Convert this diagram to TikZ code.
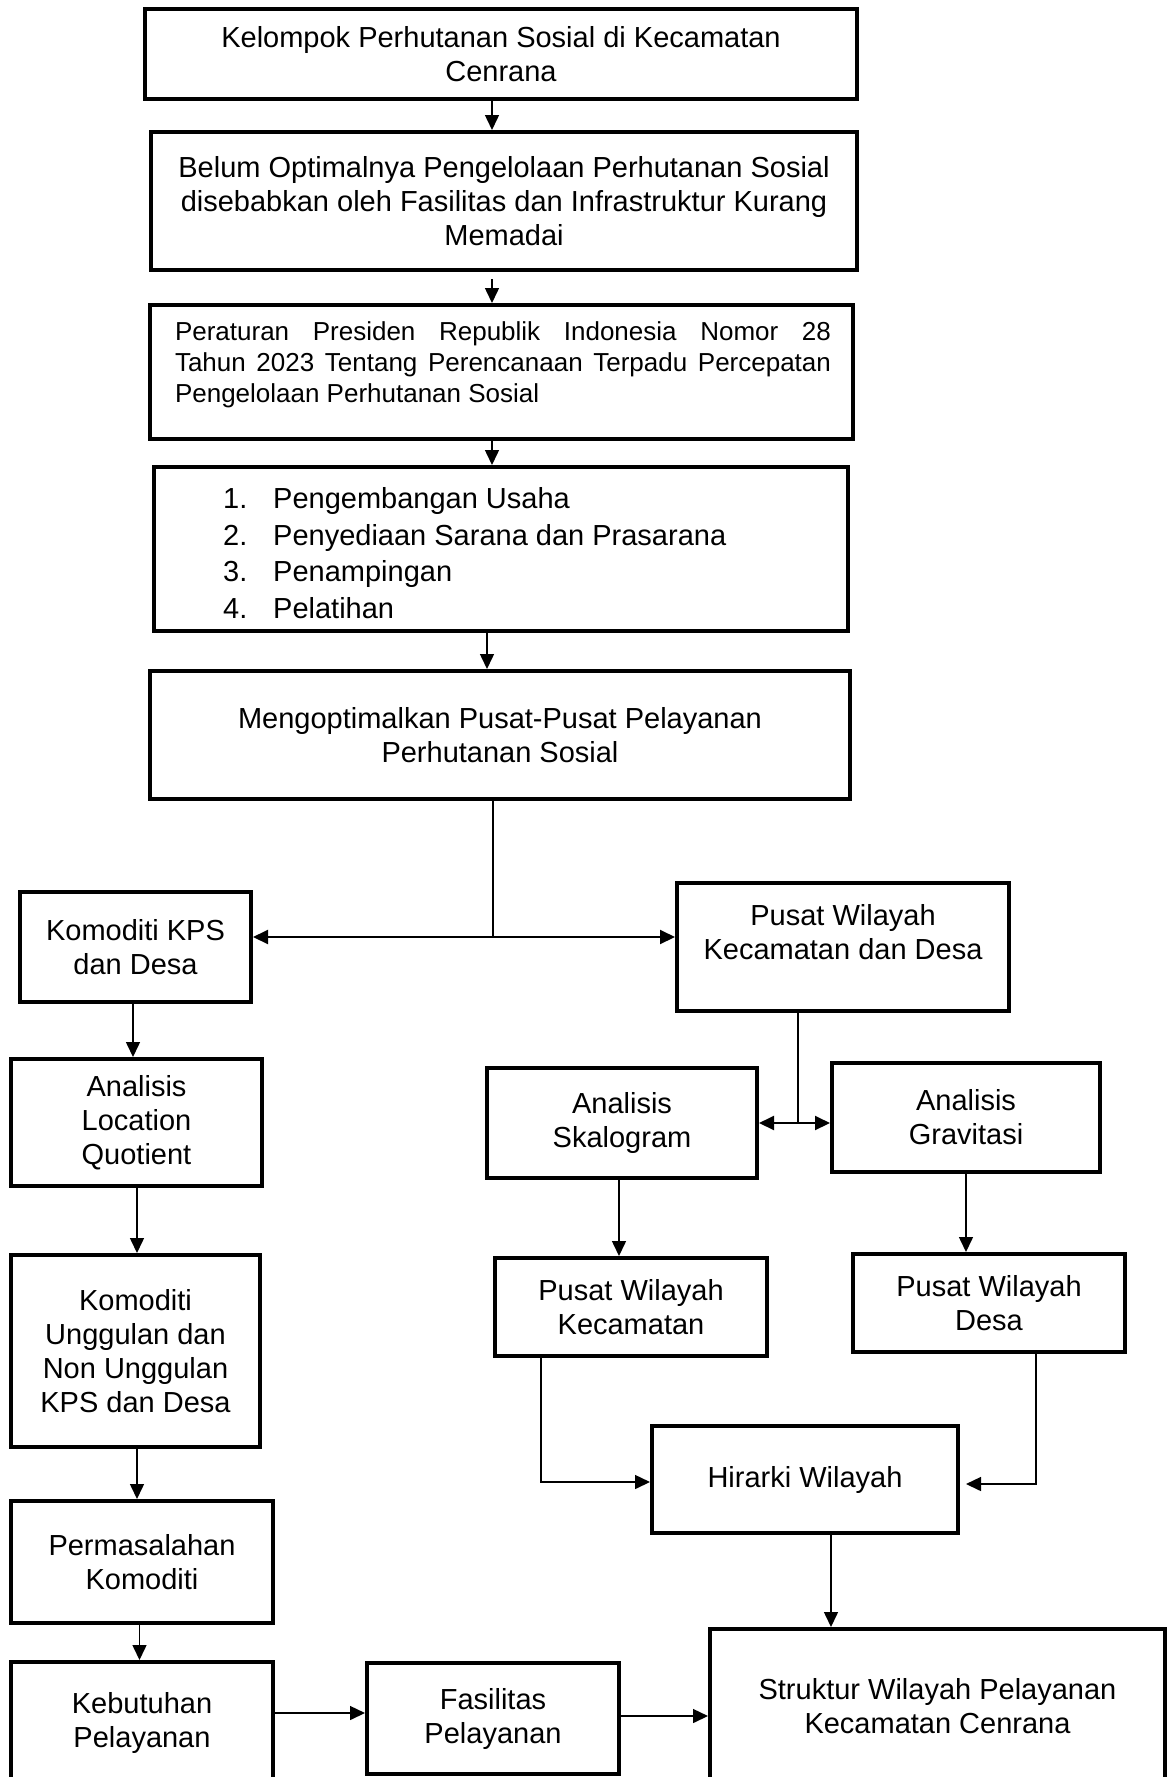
\documentclass[tikz,border=0pt]{standalone}
\usepackage{fontspec}
\setmainfont{Liberation Sans}
\usetikzlibrary{arrows.meta,calc}
\newcommand\fsmain{\fontsize{29}{34}\selectfont}
\newcommand\fsreg{\fontsize{26}{31}\selectfont}
\newcommand\fslist{\fontsize{29}{36.6}\selectfont}
\tikzset{
  box/.style={draw, line width=4pt, inner sep=0pt, align=center, font=\fsmain},
  txt/.style={inner sep=0pt, align=center, font=\fsmain},
  conn/.style={line width=1.5pt},
  arr/.style={line width=1.5pt, -{Triangle[length=15pt,width=14pt]}},
  darr/.style={line width=2pt, {Triangle[length=15pt,width=14pt]}-{Triangle[length=15pt,width=14pt]}}
}
\begin{document}
\begin{tikzpicture}[x=1pt,y=-1pt]
\useasboundingbox[fill=white] (0,0) rectangle (1170,1777);

% top column
\node[box, minimum width=712, minimum height=90] (b1) at (501,54)
  {Kelompok Perhutanan Sosial di Kecamatan\\Cenrana};
\node[box, minimum width=706, minimum height=138] (b2) at (504,201)
  {Belum Optimalnya Pengelolaan Perhutanan Sosial\\disebabkan oleh Fasilitas dan Infrastruktur Kurang\\Memadai};
\node[box, minimum width=703, minimum height=134] (b3) at (501.5,372) {};
\node[txt, font=\fsreg, align=justify, text width=656pt] (t3) at (503,365)
  {\tolerance=10000\hyphenpenalty=10000 Peraturan Presiden Republik Indonesia Nomor 28\linebreak Tahun 2023 Tentang Perencanaan Terpadu Percepatan\linebreak Pengelolaan Perhutanan Sosial};
\node[box, minimum width=694, minimum height=164] (b4) at (501,549) {};
\node[txt, font=\fslist, align=left, anchor=west] (t4) at (223,553)
  {\makebox[50pt][l]{1.}Pengembangan Usaha\\
   \makebox[50pt][l]{2.}Penyediaan Sarana dan Prasarana\\
   \makebox[50pt][l]{3.}Penampingan\\
   \makebox[50pt][l]{4.}Pelatihan};
\node[box, minimum width=700, minimum height=128] (b5) at (500,735)
  {Mengoptimalkan Pusat-Pusat Pelayanan\\Perhutanan Sosial};

% left column
\node[box, minimum width=231, minimum height=110] (kps) at (135.5,947)
  {Komoditi KPS\\dan Desa};
\node[box, minimum width=251, minimum height=127] (lq) at (136.5,1122.5)
  {Analisis\\Location\\Quotient};
\node[box, minimum width=249, minimum height=192] (ku) at (135.5,1351)
  {Komoditi\\Unggulan dan\\Non Unggulan\\KPS dan Desa};
\node[box, minimum width=262, minimum height=122] (per) at (142,1562)
  {Permasalahan\\Komoditi};
\node[box, minimum width=262, minimum height=138] (keb) at (142,1731) {};
\node[txt] (tkeb) at (142,1723) {Kebutuhan\\Pelayanan};
\node[box, minimum width=252, minimum height=111] (fas) at (493,1718.5)
  {Fasilitas\\Pelayanan};

% right column
\node[box, minimum width=332, minimum height=128] (pwkd) at (843,947) {};
\node[txt] (tpwkd) at (843,932) {Pusat Wilayah\\Kecamatan dan Desa};
\node[box, minimum width=270, minimum height=110] (ska) at (622,1123)
  {Analisis\\Skalogram};
\node[box, minimum width=268, minimum height=109] (gra) at (966,1117.5)
  {Analisis\\Gravitasi};
\node[box, minimum width=272, minimum height=98] (pwk) at (631,1307)
  {Pusat Wilayah\\Kecamatan};
\node[box, minimum width=272, minimum height=98] (pwd) at (989,1303)
  {Pusat Wilayah\\Desa};
\node[box, minimum width=306, minimum height=107] (hir) at (805,1479.5)
  {Hirarki Wilayah};
\node[box, minimum width=455, minimum height=171] (str) at (937.5,1714.5) {};
\node[txt] (tstr) at (937.5,1706) {Struktur Wilayah Pelayanan\\Kecamatan Cenrana};

% connectors: top column
\draw[arr] ([xshift=-9pt]b1.south) -- ([xshift=-12pt]b2.north);
\draw[arr] ([xshift=-12pt,yshift=-7pt]b2.south) -- ([xshift=-9.5pt]b3.north);
\draw[arr] ([xshift=-9.5pt]b3.south) -- ([xshift=-9pt]b4.north);
\draw[arr] ([xshift=-14pt]b4.south) -- ([xshift=-13pt]b5.north);

\coordinate (j1) at (493,937);
\draw[conn] ([xshift=-7pt]b5.south) -- (j1);
\draw[darr] (kps.east |- j1) -- (pwkd.west |- j1);

% left column
\draw[arr] ([xshift=-2.5pt]kps.south) -- ([xshift=-3.5pt]lq.north);
\draw[arr] ([xshift=0.5pt]lq.south) -- ([xshift=1.5pt]ku.north);
\draw[arr] ([xshift=1.5pt]ku.south) -- ([xshift=-5pt]per.north);
\draw[arr] ([xshift=-2.5pt]per.south) -- ([xshift=-2.5pt]keb.north);
\coordinate (k1) at ([yshift=18pt]keb.east);
\draw[arr] (k1) -- (k1 -| fas.west);
\coordinate (f1) at ([yshift=2.5pt]fas.east);
\draw[arr] (f1) -- (f1 -| str.west);

% right column
\coordinate (j2) at (798,1123);
\draw[conn] ([xshift=-45pt]pwkd.south) -- (j2);
\draw[darr] (ska.east |- j2) -- (gra.west |- j2);
\draw[arr] ([xshift=-3pt]ska.south) -- ([xshift=-12pt]pwk.north);
\draw[arr] (gra.south) -- ([xshift=-23pt]pwd.north);
\coordinate (j3) at (541,1482);
\draw[arr] ([xshift=-90pt]pwk.south) -- (j3) -- (j3 -| hir.west);
\coordinate (j4) at (1036,1484);
\draw[arr] ([xshift=47pt]pwd.south) -- (j4) -- ([xshift=6pt]j4 -| hir.east);
\draw[arr] ([xshift=26pt]hir.south) -- ([xshift=-106.5pt]str.north);
\end{tikzpicture}
\end{document}
